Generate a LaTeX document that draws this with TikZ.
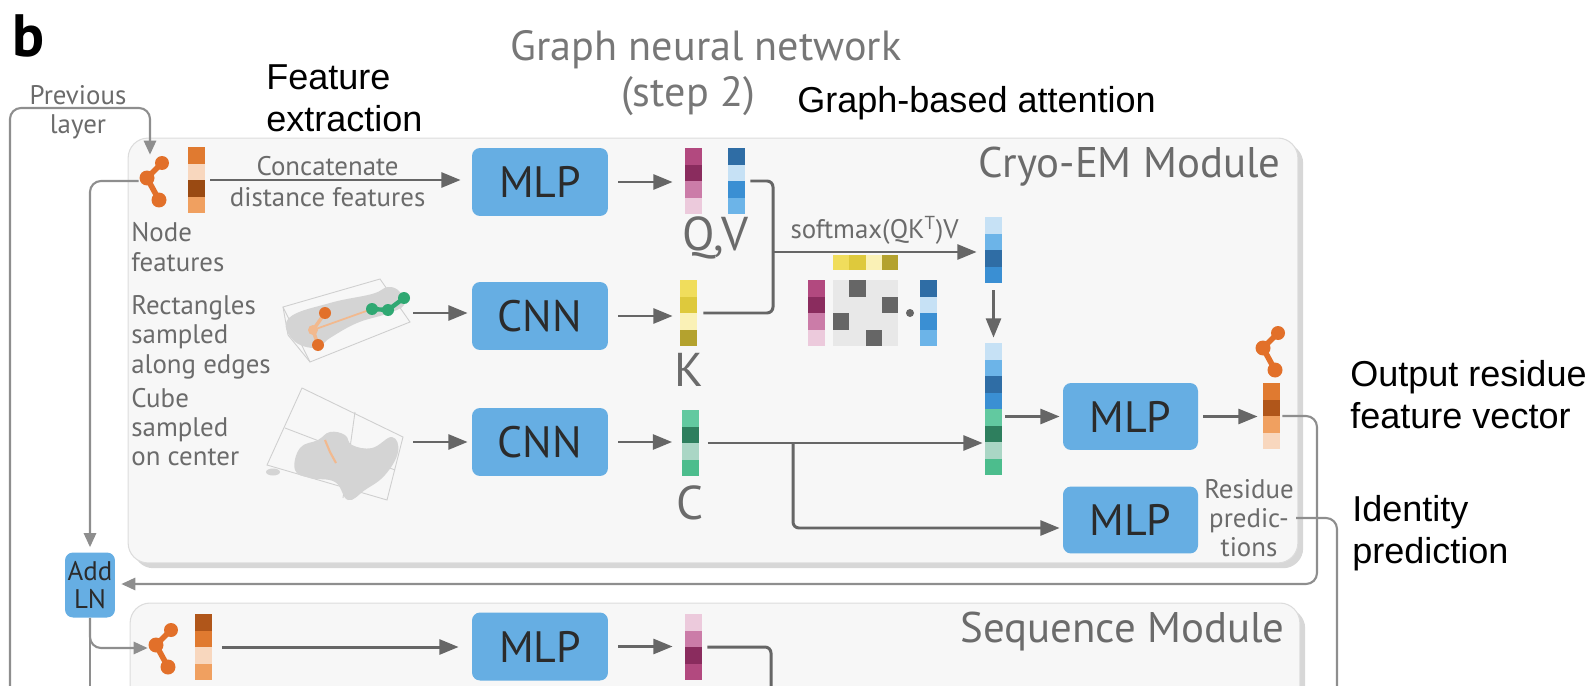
\documentclass[tikz,border=0pt]{standalone}
\usepackage{fontspec}
\usepackage{tikz}
\usepackage{xcolor}
\usetikzlibrary{positioning, arrows.meta, calc, fit, shadows}
\setmainfont{PT Sans}
\newfontfamily\gill{PT Sans}
\newfontfamily\arial{Liberation Sans}

\definecolor{boxblue}{HTML}{66AEE3}
\definecolor{boxtext}{HTML}{2B2B2B}
\definecolor{labelgray}{HTML}{6B6B6B}
\definecolor{titlegray}{HTML}{777777}
\definecolor{flowgray}{HTML}{666666}
\definecolor{loopgray}{HTML}{8E8E8E}
\definecolor{modfill}{HTML}{F7F7F7}
\definecolor{modline}{HTML}{DCDCDC}
\definecolor{wiregray}{HTML}{CFCFCF}
\definecolor{blobgray}{HTML}{D4D4D4}
\definecolor{molor}{HTML}{E2702A}
\definecolor{molpale}{HTML}{F2B98E}
\definecolor{molgreen}{HTML}{2FA872}
\definecolor{mgray}{HTML}{E8E8E8}
\definecolor{mdark}{HTML}{666666}
% vector cells
\definecolor{orA}{HTML}{E07A30}
\definecolor{orL}{HTML}{F8D7BE}
\definecolor{orD}{HTML}{9A4A12}
\definecolor{orM}{HTML}{F0A060}
\definecolor{orB}{HTML}{B0561A}
\definecolor{qA}{HTML}{B2497F}
\definecolor{qD}{HTML}{8A2C5E}
\definecolor{qM}{HTML}{CB7CA8}
\definecolor{qL}{HTML}{ECCADC}
\definecolor{vD}{HTML}{2F6DA5}
\definecolor{vL}{HTML}{C6E1F5}
\definecolor{vM}{HTML}{3A8FD3}
\definecolor{vS}{HTML}{6CB4E8}
\definecolor{kA}{HTML}{F0DD5C}
\definecolor{kB}{HTML}{DEC93C}
\definecolor{kL}{HTML}{FAF1B6}
\definecolor{kD}{HTML}{B4A22E}
\definecolor{cA}{HTML}{62C9A0}
\definecolor{cD}{HTML}{2E7F5E}
\definecolor{cL}{HTML}{AAD6C5}
\definecolor{cB}{HTML}{4CBD8D}

% feature vector: name, x, top, cells, colours
\newcommand{\featvec}[5]{%
  \foreach \col [count=\i from 0] in {#5}
    \fill[\col] (#2-8.5,#3+\i*16.5) rectangle ++(17,16.5);
  \node[inner sep=0pt, minimum width=0.34cm, minimum height=#4*0.33cm] (#1) at (#2,#3+#4*8.25) {};
}
% residue glyph: name, x, y
\newcommand{\resmol}[3]{%
  \draw[bond] (#2+8,#3-18) -- (#2-7,#3-3) -- (#2+5,#3+19);
  \fill[molor] (#2+8,#3-18) circle[radius=0.14cm];
  \fill[molor] (#2-7,#3-3) circle[radius=0.15cm];
  \fill[molor] (#2+5,#3+19) circle[radius=0.15cm];
  \node[inner sep=0pt, minimum width=0.6cm, minimum height=0.96cm] (#1) at (#2,#3) {};
}

\begin{document}
\begin{tikzpicture}[
    x=0.02cm, y=-0.02cm,
    box/.style={rectangle, rounded corners=0.16cm, fill=boxblue, text=boxtext,
                font=\gill\fontsize{25}{28}\selectfont, minimum width=2.72cm,
                minimum height=1.36cm, inner sep=0pt},
    module/.style={rectangle, rounded corners=0.4cm, fill=modfill, draw=modline, line width=0.6pt,
                   drop shadow={shadow xshift=3pt, shadow yshift=-3pt, opacity=0.35, fill=black!45}},
    lbl/.style={text=labelgray, font=\gill\fontsize{15.3}{16.7}\selectfont, align=left, inner sep=0pt},
    big/.style={text=labelgray, font=\gill\fontsize{24.4}{28}\selectfont, inner sep=0pt},
    title/.style={text=titlegray, font=\gill\fontsize{24}{27}\selectfont, inner sep=0pt},
    note/.style={text=black, font=\arial\fontsize{20.5}{24}\selectfont, align=left, inner sep=0pt},
    flow/.style={draw=flowgray, line width=1.7pt, -{Triangle[length=11pt,width=8.5pt]}},
    link/.style={draw=flowgray, line width=1.7pt, rounded corners=0.12cm},
    fback/.style={draw=loopgray, line width=1.2pt, rounded corners=0.22cm},
    fbackin/.style={fback, -{Triangle[length=8pt,width=7pt]}},
    bond/.style={draw=molor, line width=3.2pt},
    wire/.style={draw=wiregray, line width=0.5pt}
  ]
  \useasboundingbox (0,0) rectangle (1592,686);
  \clip (0,0) rectangle (1592,686);

  % modules
  \node[module, minimum width=23.4cm, minimum height=8.5cm] (cryo) at (713,350.5) {};
  \node[module, minimum width=23.4cm, minimum height=6cm] (seq) at (715,753) {};
  \node[big, anchor=east] (cryolbl) at (1281,167) {Cryo-EM Module};
  \node[big, anchor=east] (seqlbl) at (1285,632) {Sequence Module};

  % headings and notes
  \node[font=\gill\bfseries\fontsize{34}{36}\selectfont, inner sep=0pt] (panel) at (29,36) {b};
  \node[title] (gnn) at (706,50) {Graph neural network};
  \node[title] (gnnstep) at (688,96) {(step 2)};
  \node[note, anchor=west] (featx) at (266,98) {Feature\\extraction};
  \node[note, anchor=west] (gattn) at (797,103) {Graph-based attention};
  \node[note, anchor=west] (outnote) at (1350,395) {Output residue\\feature vector};
  \node[note, anchor=west] (idnote) at (1352,533) {Identity\\prediction};

  % inputs
  \resmol{nfmol}{154}{181}
  \featvec{nf}{196}{147}{4}{orA,orL,orD,orM}
  \node[lbl, anchor=west] (nflbl) at (131,247) {Node\\features};
  \node[lbl, anchor=west] (rectlbl) at (131,337) {Rectangles\\sampled\\along edges};
  \node[lbl, anchor=west] (cubelbl) at (131,427) {Cube\\sampled\\on center};

  % edge sample
  \draw[wire] (283,307) -- (380,279) -- (410,322) -- (310,362) -- cycle;
  \draw[wire] (283,307) -- (288,335) -- (310,362);
  \fill[blobgray] plot[smooth cycle, tension=0.7] coordinates {(289,318) (330,303) (372,294) (388,287)
    (400,292) (404,305) (386,314) (357,323) (330,338) (316,348) (293,340)};
  \draw[molpale, line width=1pt] (313,330) -- (372,309);
  \draw[molpale, line width=2pt] (325,313) -- (313,330) -- (318,345);
  \draw[molgreen, line width=2.5pt] (372,309) -- (388,310) -- (404,298);
  \fill[molor] (325,313) circle[radius=0.12cm];
  \fill[molor] (318,345) circle[radius=0.12cm];
  \fill[molpale] (313,330) circle[radius=0.1cm];
  \fill[molgreen] (372,309) circle[radius=0.12cm];
  \fill[molgreen] (388,310) circle[radius=0.12cm];
  \fill[molgreen] (404,298) circle[radius=0.12cm];
  \coordinate (rectthumb) at (413,313);

  % centre cube
  \draw[wire] (302,388) -- (403,437) -- (387,500) -- (267,465) -- cycle;
  \draw[wire] (355,412) -- (343,498);
  \draw[wire] (285,428) -- (395,470);
  \fill[blobgray] plot[smooth cycle, tension=0.7] coordinates {(300,448) (318,440) (330,432) (345,435)
    (352,445) (372,448) (392,437) (398,452) (385,475) (365,490) (348,500) (335,482) (310,478) (295,470)};
  \fill[blobgray] (273,472) ellipse[x radius=0.14cm, y radius=0.07cm];
  \draw[molpale, line width=1.2pt] (325,440) -- (330,452) -- (336,463);
  \coordinate (cubethumb) at (413,442);

  % feature extraction
  \node[box] (mlpA) at (540,182) {MLP};
  \node[box] (cnnA) at (540,316) {CNN};
  \node[box] (cnnB) at (540,442) {CNN};
  \draw[flow, shorten <=0.11cm, shorten >=0.22cm] (nf.east) --
    node[lbl, pos=0.46, above=0.05cm] (catlbl) {Concatenate}
    node[lbl, pos=0.46, below=0.12cm] (distlbl) {distance features} (nf.east -| mlpA.west);
  \draw[flow, shorten >=0.08cm] (rectthumb) -- (rectthumb -| cnnA.west);
  \draw[flow, shorten >=0.08cm] (cubethumb) -- (cubethumb -| cnnB.west);

  \featvec{q}{693.5}{148}{4}{qA,qD,qM,qL}
  \featvec{v}{736.5}{148}{4}{vD,vL,vM,vS}
  \featvec{k}{688.5}{280}{4}{kA,kB,kL,kD}
  \featvec{c}{690}{410}{4}{cA,cD,cL,cB}
  \node[big, font=\gill\fontsize{27}{30}\selectfont] (qvlbl) at (715,238) {Q,V};
  \node[big, font=\gill\fontsize{27}{30}\selectfont] (klbl) at (689,370) {K};
  \node[big, font=\gill\fontsize{27}{30}\selectfont] (clbl) at (690,503) {C};
  \draw[flow, shorten <=0.2cm, shorten >=0.24cm] (mlpA.east) -- (mlpA.east -| q.west);
  \draw[flow, shorten <=0.2cm, shorten >=0.14cm] (cnnA.east) -- (cnnA.east -| k.west);
  \draw[flow, shorten <=0.2cm, shorten >=0.18cm] (cnnB.east) -- (cnnB.east -| c.west);

  % graph-based attention
  \coordinate (joinpt) at (773,252);
  \draw[link, shorten <=0.1cm, shorten >=0.12cm] (v.east) -| (joinpt) |- (k.east);
  \featvec{att}{993.5}{217}{4}{vL,vS,vD,vM}
  \draw[flow, shorten >=0.16cm] (joinpt) --
    node[lbl, above=0.12cm, pos=0.48] (smlbl) {softmax(QK\textsuperscript{T})V} (joinpt -| att.west);
  \foreach \col [count=\i from 0] in {kA,kB,kL,kD}
    \fill[\col] (833+\i*16.25,255) rectangle ++(16.25,15);
  \featvec{qsm}{816.5}{280}{4}{qA,qD,qM,qL}
  \fill[mgray] (833,280) rectangle (898,346);
  \foreach \cx/\cy in {1/0,3/1,0/2,2/3}
    \fill[mdark] (833+\cx*16.25,280+\cy*16.5) rectangle ++(16.25,16.5);
  \fill[flowgray] (910,313) circle[radius=0.08cm];
  \featvec{vsm}{928.5}{280}{4}{vD,vL,vM,vS}

  % merge and outputs
  \featvec{cat}{993.5}{343}{8}{vL,vS,vD,vM,cA,cD,cL,cB}
  \draw[flow, shorten <=0.14cm, shorten >=0.1cm] (att.south) -- (cat.north);
  \draw[flow, shorten <=0.18cm, shorten >=0.04cm] (c.east) -- (c.east -| cat.west);
  \node[box, minimum width=2.7cm, minimum height=1.34cm] (mlpB) at (1130.5,416.5) {MLP};
  \node[box, minimum width=2.7cm, minimum height=1.34cm] (mlpC) at (1130.5,520) {MLP};
  \coordinate (branch) at (793,443);
  \draw[flow, rounded corners=0.12cm, shorten >=0.06cm] (branch) |- ([yshift=-0.16cm]mlpC.west);
  \draw[flow, shorten <=0.06cm, shorten >=0.06cm] (mlpB.west -| cat.east) -- (mlpB.west);
  \featvec{out}{1271.5}{383}{4}{orA,orB,orM,orL}
  \resmol{outmol}{1270}{351}
  \draw[flow, shorten <=0.1cm, shorten >=0.1cm] (mlpB.east) -- (mlpB.east -| out.west);
  \node[lbl, align=center, font=\gill\fontsize{15.3}{16.4}\selectfont] (resid) at (1249,518) {Residue\\predic-\\tions};

  % residual connections
  \node[box, minimum width=1.0cm, minimum height=1.3cm, font=\gill\fontsize{15.3}{16.4}\selectfont,
        align=center] (addln) at (90,585) {Add\\LN};
  \coordinate (prevstart) at (10,700);
  \coordinate (prevtop) at (10,108);
  \node[lbl, align=center] (prevlbl) at (78,112) {Previous\\layer};
  \draw[fbackin, shorten >=0.04cm] (prevstart) -- (prevtop) -| ([xshift=-0.08cm]nfmol.north);
  \draw[fbackin, shorten >=0.1cm] (nfmol.west) -| (addln.north);
  \coordinate (outturn) at (1317,584);
  \draw[fbackin, shorten <=0.04cm, shorten >=0.12cm] (out.east) -| (outturn) -- (outturn -| addln.east);
  \coordinate (idend) at (1337,700);
  \draw[fback] ([xshift=0.04cm]resid.east) -| (idend);

  % sequence module
  \resmol{sfmol}{163}{648}
  \featvec{sf}{203}{614}{4}{orB,orA,orL,orM}
  \node[box] (mlpS) at (540,646.5) {MLP};
  \featvec{sp}{693.5}{614}{4}{qL,qM,qD,qA}
  \coordinate (lnend) at (90,700);
  \draw[fback] (addln.south) -- (lnend);
  \draw[fbackin] (addln.south) |- (sfmol.west);
  \draw[flow, shorten <=0.2cm, shorten >=0.26cm] (sf.east) -- (sf.east -| mlpS.west);
  \draw[flow, shorten <=0.2cm, shorten >=0.24cm] (mlpS.east) -- (mlpS.east -| sp.west);
  \coordinate (spend) at (771,700);
  \draw[link, shorten <=0.1cm] (sp.east) -| (spend);
\end{tikzpicture}
\end{document}
